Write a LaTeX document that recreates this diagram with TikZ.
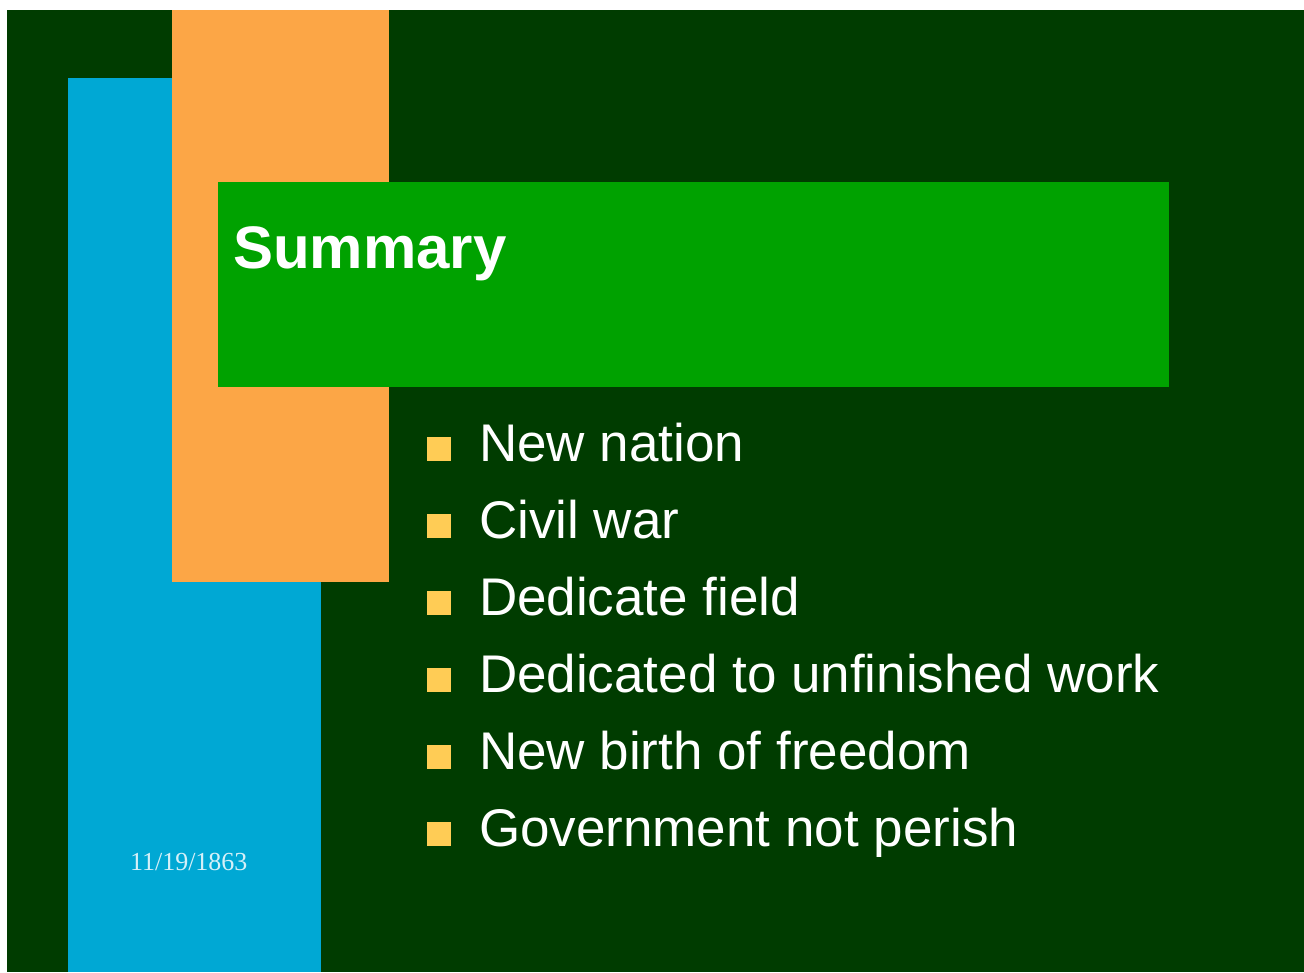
\documentclass[tikz,border=0pt]{standalone}
\usepackage{fontspec}
\setmainfont{Liberation Sans}
\newfontfamily\dateFont{Liberation Serif}
\definecolor{slideBack}{RGB}{0,60,0}
\definecolor{barOrange}{RGB}{252,166,70}
\definecolor{barBlue}{RGB}{0,168,212}
\definecolor{titleGreen}{RGB}{0,162,0}
\definecolor{bulletYellow}{RGB}{255,204,85}
\definecolor{dateCyan}{RGB}{214,240,248}

\begin{document}
\begin{tikzpicture}
[x=1pt,y=-1pt,
  every node/.style={inner sep=0pt,outer sep=0pt},%
  titleText/.style={anchor=base west,text=white,font=\fontsize{60}{72}\selectfont\bfseries},
  itemText/.style={anchor=base west,text=white,font=\fontsize{53}{64}\selectfont},
  itemMark/.style={anchor=south west,fill=bulletYellow,minimum size=24pt}]
\useasboundingbox (0,0) rectangle (1304,972);
\fill[white] (0,0) rectangle (1304,972);
\fill[slideBack] (7,10) rectangle (1304,972);
% coloured bars
\fill[barBlue] (68,78) rectangle (321,972);
\fill[barOrange] (172,10) rectangle (389,582);
\fill[titleGreen] (218,182) rectangle (1169,387);
\node[titleText] (title) at (233,268) {Summary};
\node[anchor=base west,text=dateCyan,font=\fontsize{26}{30}\selectfont\dateFont]
  (date) at (130,870) {11/19/1863};
% bullet list
\foreach \row/\label in {
  0/New nation, 1/Civil war, 2/Dedicate field,
  3/Dedicated to unfinished work, 4/New birth of freedom,
  5/Government not perish}
{
  \node[itemMark] (mark\row) at (427,{461+77*\row}) {};
  \node[itemText] (item\row) at (479,{461+77*\row}) {\label};
}
\end{tikzpicture}
\end{document}
